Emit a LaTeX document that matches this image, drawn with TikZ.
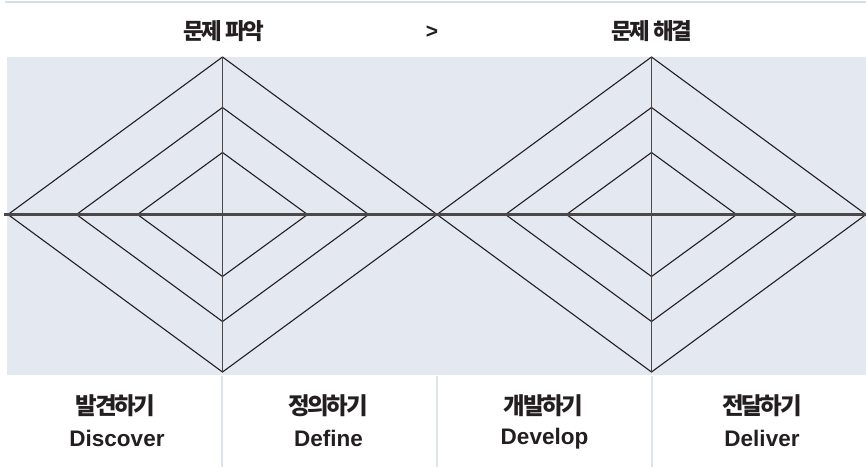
\documentclass[tikz,border=0pt]{standalone}
\usepackage{fontspec}
\newfontfamily\krfont{Noto Sans CJK KR}[LetterSpace=-10]
\newfontfamily\lafont{Liberation Sans}
\usetikzlibrary{calc}

\definecolor{ink}{HTML}{231F20}
\definecolor{panelbg}{HTML}{E4E8F1}
\definecolor{rulecol}{HTML}{D3DEE7}
\definecolor{sepcol}{HTML}{DDE4EC}
\definecolor{axiscol}{HTML}{4A4849}

\tikzset{
  dline/.style={draw=ink, line width=1.1pt, line join=miter},
  vaxis/.style={draw=axiscol, line width=1.2pt},
  haxis/.style={draw=axiscol, line width=2.2pt},
  colsep/.style={draw=sepcol, line width=1.6pt},
  head/.style={text=ink, font=\krfont\bfseries\fontsize{22.5}{24}\selectfont, inner sep=0pt},
  phasekr/.style={text=ink, font=\krfont\bfseries\fontsize{23.5}{25}\selectfont, inner sep=0pt},
  phaseen/.style={text=ink, font=\lafont\bfseries\fontsize{22.5}{24}\selectfont, inner sep=0pt},
}

\begin{document}
\begin{tikzpicture}[x=1pt,y=-1pt]
  \useasboundingbox (0,0) rectangle (866,467);
  \fill[white] (0,0) rectangle (866,467);

  % thin rule along the top edge
  \draw[draw=rulecol, line width=1.2pt] (5,2) -- (866,2);

  % shaded band behind the diamonds
  \fill[panelbg] (7,57) rectangle (866,375);

  % diamond centres
  \coordinate (L) at (222.5,214.5);
  \coordinate (R) at (651.5,214.5);

  % three nested diamonds per phase
  \foreach \c in {L,R}{
    \foreach \w/\h in {214.5/157.5, 146/107, 85/62}{
      \draw[dline] (\c) ++(-\w,0) -- ++(\w,-\h) -- ++(\w,\h) -- ++(-\w,\h) -- cycle;
    }
    \draw[vaxis] ($(\c)+(0,-157.5)$) -- ($(\c)+(0,157.5)$);
  }

  % horizontal axis through both diamonds
  \coordinate (hstart) at (4,214.5);
  \coordinate (hend) at (866,214.5);
  \draw[haxis] (hstart) -- (hend);

  % headings
  \node[head] (probfind) at (224,31.5) {문제 파악};
  \node[text=ink, font=\lafont\bfseries\fontsize{21}{22}\selectfont, inner sep=0pt] (arrowsym) at (432,32) {>};
  \node[head] (probsolve) at (652,31.5) {문제 해결};

  % column separators below the band
  \foreach \x/\n in {222/s1, 437/s2, 652/s3}{
    \coordinate (\n a) at (\x,376);
    \coordinate (\n b) at (\x,467);
    \draw[colsep] (\n a) -- (\n b);
  }

  % phase labels
  \node[phasekr] (k1) at (115.5,406) {발견하기};
  \node[phaseen] (e1) at (117,438.5) {Discover};
  \node[phasekr] (k2) at (328,406) {정의하기};
  \node[phaseen] (e2) at (328.5,438.5) {Define};
  \node[phasekr] (k3) at (543.5,406) {개발하기};
  \node[phaseen] (e3) at (544.5,438.5) {Develop};
  \node[phasekr] (k4) at (762,406) {전달하기};
  \node[phaseen] (e4) at (762,438.5) {Deliver};
\end{tikzpicture}
\end{document}
